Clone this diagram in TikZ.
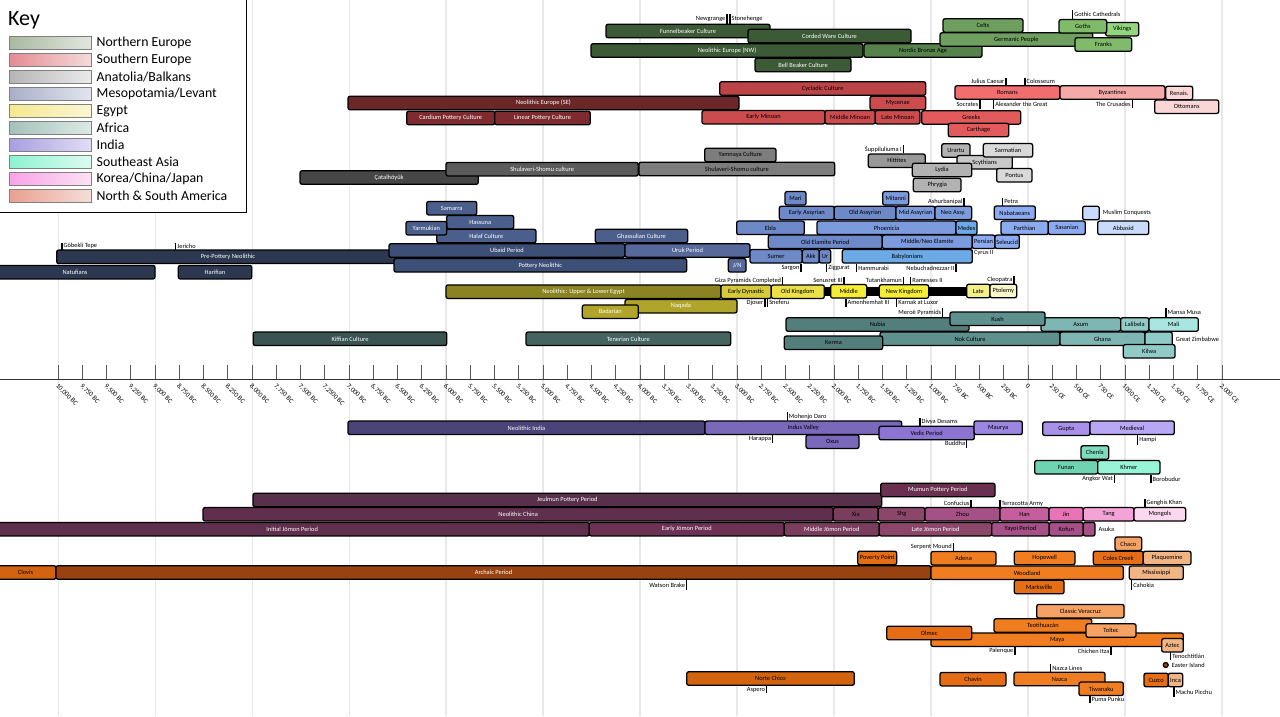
\documentclass[tikz,border=0pt]{standalone}
\usepackage{fontspec}
\setmainfont{Carlito}
\usetikzlibrary{positioning}

% region colours (dark to light)
\definecolor{neA}{HTML}{3B5A35}\definecolor{neB}{HTML}{56834B}\definecolor{neC}{HTML}{6E9F5E}
\definecolor{neD}{HTML}{7FBB6B}\definecolor{neE}{HTML}{93D67E}
\definecolor{seA}{HTML}{6B2728}\definecolor{seB}{HTML}{7D2B2F}\definecolor{seC}{HTML}{BC4447}
\definecolor{seD}{HTML}{CC4C4E}\definecolor{seE}{HTML}{E25A5B}\definecolor{seF}{HTML}{F26D6D}
\definecolor{seG}{HTML}{F5A9A9}\definecolor{seH}{HTML}{FAD6D6}
\definecolor{anA}{HTML}{464646}\definecolor{anB}{HTML}{5B5B5B}\definecolor{anC}{HTML}{7D7D7D}
\definecolor{anD}{HTML}{989898}\definecolor{anE}{HTML}{B2B2B2}\definecolor{anF}{HTML}{C8C8C8}
\definecolor{anG}{HTML}{D9D9D9}
\definecolor{meA}{HTML}{2B3850}\definecolor{meB}{HTML}{3D4F77}\definecolor{meC}{HTML}{4B5F8D}
\definecolor{meD}{HTML}{56699A}\definecolor{meE}{HTML}{6D89C8}\definecolor{meF}{HTML}{7C9BDD}
\definecolor{meG}{HTML}{6BAAE6}\definecolor{meH}{HTML}{8CAAF0}\definecolor{meI}{HTML}{C8DBFC}
\definecolor{egA}{HTML}{8B8321}\definecolor{egB}{HTML}{B1A42A}\definecolor{egC}{HTML}{D6C93C}
\definecolor{egD}{HTML}{EBE04A}\definecolor{egE}{HTML}{F5EC35}\definecolor{egF}{HTML}{F3EF88}
\definecolor{egG}{HTML}{FBF8C8}
\definecolor{afA}{HTML}{3A5551}\definecolor{afB}{HTML}{45635F}\definecolor{afC}{HTML}{527E7B}
\definecolor{afD}{HTML}{5E908D}\definecolor{afE}{HTML}{7DB6B3}\definecolor{afF}{HTML}{91CBC7}
\definecolor{afG}{HTML}{A9E6E2}
\definecolor{inA}{HTML}{4A4478}\definecolor{inB}{HTML}{7A69BA}\definecolor{inC}{HTML}{8C74D2}
\definecolor{inD}{HTML}{9C86E2}\definecolor{inE}{HTML}{A991EA}\definecolor{inF}{HTML}{B9A7F6}
\definecolor{saA}{HTML}{6FD2B1}\definecolor{saB}{HTML}{7DDCBD}\definecolor{saC}{HTML}{97F4D6}
\definecolor{kcA}{HTML}{58304B}\definecolor{kcB}{HTML}{5F2F4D}\definecolor{kcC}{HTML}{6C3153}
\definecolor{kcD}{HTML}{7B3D5E}\definecolor{kcE}{HTML}{8B466A}\definecolor{kcF}{HTML}{6A3050}
\definecolor{kcG}{HTML}{A55086}\definecolor{kcH}{HTML}{C45E9D}\definecolor{kcI}{HTML}{E873B7}
\definecolor{kcJ}{HTML}{F4A3D6}\definecolor{kcK}{HTML}{FCD8F0}
\definecolor{amA}{HTML}{D2640F}\definecolor{amB}{HTML}{974210}\definecolor{amC}{HTML}{E46D16}
\definecolor{amD}{HTML}{F07D20}\definecolor{amE}{HTML}{F5A264}\definecolor{amF}{HTML}{F0B583}
% key swatches
\definecolor{kNEl}{HTML}{A8B9A0}\definecolor{kNEr}{HTML}{E2E6DE}
\definecolor{kSEl}{HTML}{E48C92}\definecolor{kSEr}{HTML}{F5DADA}
\definecolor{kANl}{HTML}{B5B5B5}\definecolor{kANr}{HTML}{EAEAEA}
\definecolor{kMEl}{HTML}{A7AFC8}\definecolor{kMEr}{HTML}{E2E5EE}
\definecolor{kEGl}{HTML}{F5E88E}\definecolor{kEGr}{HTML}{FAF6D4}
\definecolor{kAFl}{HTML}{A3C2BA}\definecolor{kAFr}{HTML}{DDE9E5}
\definecolor{kINl}{HTML}{A79FE0}\definecolor{kINr}{HTML}{E1DDF5}
\definecolor{kSAl}{HTML}{8EF2D0}\definecolor{kSAr}{HTML}{DAFCF0}
\definecolor{kKCl}{HTML}{F9A2E8}\definecolor{kKCr}{HTML}{FCE2F4}
\definecolor{kAMl}{HTML}{E9A08F}\definecolor{kAMr}{HTML}{F5DDD8}

\tikzset{
  era/.style={draw=black, line width=1.3pt, rounded corners=2pt, minimum height=13.5,
    inner sep=0pt, font=\fontsize{6.4}{7}\selectfont},
  evtick/.style={line width=1.2pt},
  evtext/.style={inner sep=0.8pt, font=\fontsize{6.4}{7}\selectfont},
  gridline/.style={line width=1.2pt, black!9},
  axisline/.style={line width=1pt, black!80},
  axistick/.style={line width=0.9pt, black!65},
  ticklab/.style={rotate=-45, anchor=west, inner sep=0pt, font=\fontsize{6.8}{7}\selectfont},
  keybox/.style={draw=black, line width=1.3pt, fill=white},
  swatch/.style={draw=black!50, line width=1pt, minimum width=82, minimum height=12.5, inner sep=0pt},
  keytext/.style={inner sep=0pt, font=\fontsize{13.8}{15}\selectfont}
}

% \era[text colour]{name}{x from}{x to}{y}{fill}{label}
\newcommand{\era}[7][black]{\node[era, fill=#6, text=#1, minimum width={#4-#3}] (#2) at ({(#3+#4)/2},#5) {#7};}
% events: tick from y1 to y2, label to the left / right
\newcommand{\evl}[5]{\draw[evtick] (#2,#3) -- (#2,#4); \node[evtext, anchor=east] (#1) at (#2-0.6,{(#3+#4)/2}) {#5};}
\newcommand{\evr}[5]{\draw[evtick] (#2,#3) -- (#2,#4); \node[evtext, anchor=west] (#1) at (#2+0.6,{(#3+#4)/2}) {#5};}

\begin{document}
\begin{tikzpicture}[x=1pt, y=-1pt]
	\useasboundingbox (0,0) rectangle (1280,716);
	\foreach \yr in {-10000,-9000,...,2000}
		\draw[gridline] ({1028+0.09698*\yr},0) -- ({1028+0.09698*\yr},716);

	% key
	\draw[keybox] (-5,-5) rectangle (246.5,212.3);
	\node[anchor=west, inner sep=0pt, font=\fontsize{22}{24}\selectfont] (keytitle) at (8,20) {Key};
	\foreach \i/\lc/\rc/\lab in {0/kNEl/kNEr/Northern Europe, 1/kSEl/kSEr/Southern Europe,
		2/kANl/kANr/Anatolia\slash Balkans, 3/kMEl/kMEr/Mesopotamia\slash Levant, 4/kEGl/kEGr/Egypt,
		5/kAFl/kAFr/Africa, 6/kINl/kINr/India, 7/kSAl/kSAr/Southeast Asia,
		8/kKCl/kKCr/Korea\slash China\slash Japan, 9/kAMl/kAMr/North \& South America} {
		\node[swatch, left color=\lc, right color=\rc] (key\i) at (50,{42.8+17*\i}) {};
		\node[keytext, right=5pt of key\i] (keylab\i) {\lab};
	}

	% Northern Europe
	\era[white]{funnel}{606}{770}{31}{neA}{Funnelbeaker Culture}
	\era[white]{corded}{748}{911}{36}{neA}{Corded Ware Culture}
	\era[white]{neoNW}{591}{863}{50.5}{neA}{Neolithic Europe (NW)}
	\era{nordic}{864}{982}{50.5}{neB}{Nordic Bronze Age}
	\era[white]{beaker}{755}{851}{65}{neA}{Bell Beaker Culture}
	\era{germanic}{940}{1092.7}{39.5}{neC}{Germanic People}
	\era{celts}{943}{1023}{25.5}{neC}{Celts}
	\era{vikings}{1105.7}{1138.7}{29.2}{neE}{Vikings}
	\era{goths}{1059}{1106.7}{26.3}{neD}{Goths}
	\era{franks}{1075}{1131.7}{44.5}{neD}{Franks}
	\evl{newgrange}{727}{14}{24}{Newgrange}
	\evr{stonehenge}{730}{14}{24}{Stonehenge}
	\evr{gothic}{1072.7}{10}{18.5}{Gothic Cathedrals}

	% Southern Europe
	\era[white]{neoSE}{348}{739}{103}{seA}{Neolithic Europe (SE)}
	\era[white]{cardium}{406.7}{494.7}{118}{seB}{Cardium Pottery Culture}
	\era[white]{linear}{494.7}{590.3}{118}{seB}{Linear Pottery Culture}
	\era{cycladic}{719.7}{925.7}{88.5}{seC}{Cycladic Culture}
	\era{mycenae}{870}{925.7}{103}{seD}{Mycenae}
	\era{eminoan}{702}{825}{117.2}{seD}{Early Minoan}
	\era{mminoan}{825}{875.3}{117.2}{seD}{Middle Minoan}
	\era{lminoan}{875.3}{920}{117.2}{seD}{Late Minoan}
	\era{greeks}{921.7}{1020.7}{117.4}{seE}{Greeks}
	\era{carthage}{948.3}{1008.7}{130}{seE}{Carthage}
	\era{romans}{955}{1060}{92.5}{seF}{Romans}
	\era{byzantines}{1060}{1165}{92.5}{seG}{Byzantines}
	\era{ottomans}{1154.7}{1218.7}{106.7}{seH}{Ottomans}
	\era{renais}{1165.7}{1192.7}{93}{seH}{Renais.}
	\evl{caesar}{1006}{77.5}{85}{Julius Caesar}
	\evr{colosseum}{1025}{77.5}{85}{Colosseum}
	\evl{socrates}{980}{100}{109}{Socrates}
	\evr{alexander}{993.7}{100}{109}{Alexander the Great}
	\evl{crusades}{1132.3}{100}{108}{The Crusades}

	% Anatolia / Balkans
	\era[white]{catal}{300}{478.3}{177.5}{anA}{Çatalhöyük}
	\era[white]{shulaveriA}{446}{638.3}{169.2}{anB}{Shulaveri-Shomu culture}
	\era{shulaveriB}{639}{834.7}{169}{anC}{Shulaveri-Shomu culture}
	\era{yamnaya}{704.7}{776}{155}{anC}{Yamnaya Culture}
	\era{hittites}{868.3}{925.3}{160.8}{anD}{Hittites}
	\era{urartu}{941.7}{970}{150.5}{anE}{Urartu}
	\era{scythians}{957}{1012.3}{162.3}{anF}{Scythians}
	\era{lydia}{912.3}{971.7}{170}{anE}{Lydia}
	\era{phrygia}{913.3}{961}{185}{anE}{Phrygia}
	\era{sarmatian}{983.3}{1032.7}{150.3}{anG}{Sarmatian}
	\era{pontus}{996.7}{1032}{175.3}{anG}{Pontus}
	\evl{suppiluliuma}{903.3}{145}{153}{Šuppiluliuma I}

	% Mesopotamia / Levant
	\era[white]{natufians}{-5}{155}{272.2}{meA}{Natufians}
	\era[white]{ppn}{56.7}{399.3}{256.8}{meA}{Pre-Pottery Neolithic}
	\era[white]{harifian}{178.3}{251.7}{272.2}{meA}{Harifian}
	\era[white]{samarra}{426.7}{476.7}{208.2}{meC}{Samarra}
	\era[white]{hassuna}{446.7}{513.7}{222.2}{meC}{Hassuna}
	\era[white]{halaf}{436.7}{536}{236}{meC}{Halaf Culture}
	\era[white]{yarmukian}{406}{446.7}{228.2}{meC}{Yarmukian}
	\era[white]{ghassulian}{595.3}{687.7}{236}{meC}{Ghassulian Culture}
	\era[white]{ubaid}{389}{625}{250.5}{meB}{Ubaid Period}
	\era[white]{uruk}{625}{750}{250.5}{meD}{Uruk Period}
	\era[white]{potneo}{394}{686.7}{265.3}{meB}{Pottery Neolithic}
	\era[white]{jn}{728.3}{746}{265.3}{meD}{J/N}
	\era{mari}{785}{806}{198.3}{meE}{Mari}
	\era{mitanni}{882.7}{908.7}{198.3}{meF}{Mitanni}
	\era{eassyrian}{779.3}{834.3}{213}{meE}{Early Assyrian}
	\era{oassyrian}{834.3}{896}{213}{meE}{Old Assyrian}
	\era{massyrian}{896}{935}{213}{meF}{Mid Assyrian}
	\era{nassyrian}{935}{971.7}{213}{meF}{Neo Assy.}
	\era{ebla}{736.7}{804.3}{227.8}{meE}{Ebla}
	\era{phoenicia}{817}{956}{227.8}{meF}{Phoenicia}
	\era{medes}{956}{977}{227.8}{meG}{Medes}
	\era{oelamite}{768.3}{882.3}{241.8}{meE}{Old Elamite Period}
	\era{nelamite}{882.3}{972.3}{241.8}{meF}{Middle/Neo Elamite}
	\era{persian}{972.3}{995}{241.8}{meH}{Persian}
	\era{seleucid}{995}{1019.3}{241.8}{meH}{Seleucid}
	\era{sumer}{750}{802.3}{256.3}{meE}{Sumer}
	\era{akk}{802.3}{819.3}{256.3}{meE}{Akk}
	\era{ur}{819.3}{830.7}{256.3}{meE}{Ur}
	\era{babylonians}{842.3}{972.3}{256.3}{meG}{Babylonians}
	\era{nabataeans}{994.3}{1035.3}{212.8}{meH}{Nabataeans}
	\era{parthian}{1001}{1048.3}{227.8}{meH}{Parthian}
	\era{sasanian}{1048.3}{1085.3}{227.8}{meH}{Sasanian}
	\era{muslim}{1082.7}{1099.3}{213}{meI}{}
	\era{abbasid}{1097.7}{1148.7}{227.8}{meI}{Abbasid}
	\node[evtext, right=2pt of muslim] (conquests) {Muslim Conquests};
	\evr{gobekli}{62}{242.5}{249.5}{Göbekli Tepe}
	\evr{jericho}{175.7}{242.5}{249.5}{Jericho}
	\evl{ashurbanipal}{964}{197.5}{205.7}{Ashurbanipal}
	\evr{petra}{1002.7}{197.5}{205.7}{Petra}
	\evl{sargon}{801}{264}{272}{Sargon}
	\evr{ziggurat}{826.7}{264}{272}{Ziggurat}
	\evr{hammurabi}{856.7}{264}{272}{Hammurabi}
	\evl{nebuchadnezzar}{956}{264}{272}{Nebuchadnezzar II}
	\evr{cyrus}{972.5}{249.5}{257}{Cyrus II}

	% Egypt
	\era[white]{neoegypt}{446}{721}{291.7}{egA}{Neolithic: Upper \& Lower Egypt}
	\era[white]{naqada}{625}{737}{306.2}{egB}{Naqada}
	\era[white]{badarian}{582.3}{638.3}{311.7}{egB}{Badarian}
	\fill[black] (824,286.5) rectangle (968,295.5);
	\era{edynastic}{721}{771.3}{291.7}{egC}{Early Dynastic}
	\era{okingdom}{771.3}{824.3}{291.7}{egD}{Old Kingdom}
	\era{mkingdom}{830.7}{866.7}{291.3}{egE}{Middle}
	\era{nkingdom}{879.3}{928.7}{291.5}{egE}{New Kingdom}
	\era{late}{966.7}{990}{291}{egF}{Late}
	\era{ptolemy}{990}{1016.7}{291}{egG}{Ptolemy}
	\evl{giza}{782.7}{277}{284.5}{Giza Pyramids Completed}
	\evl{senusret}{844}{277}{284.5}{Senusret III}
	\evl{tutankhamun}{903.3}{277}{284.5}{Tutankhamun}
	\evr{ramesses}{910.7}{277}{284.5}{Ramesses II}
	\evl{cleopatra}{1014}{276}{284}{Cleopatra}
	\evl{djoser}{765}{299}{306.5}{Djoser}
	\evr{sneferu}{767.7}{299}{306.5}{Sneferu}
	\evr{amenhemhat}{846}{299}{306.5}{Amenhemhat III}
	\evr{karnak}{896.7}{299}{306.5}{Karnak at Luxor}
	\evl{meroe}{942.7}{308}{317}{Meroë Pyramids}

	% Africa
	\era[white]{kiffian}{253.3}{446.7}{338.8}{afA}{Kiffian Culture}
	\era[white]{tenerian}{526}{730.7}{338.8}{afB}{Tenerian Culture}
	\era{nubia}{786}{969}{324.5}{afC}{Nubia}
	\era{axum}{1041}{1120.7}{324.5}{afE}{Axum}
	\era{kush}{950}{1045}{318.8}{afD}{Kush}
	\era{lalibela}{1120.7}{1149}{324.5}{afF}{Lalibela}
	\era{mali}{1149}{1198.3}{324.5}{afG}{Mali}
	\era{nok}{880}{1060}{338.8}{afD}{Nok Culture}
	\era{kerma}{784.3}{882.7}{342.8}{afC}{Kerma}
	\era{ghana}{1060}{1145}{338.8}{afE}{Ghana}
	\era{zimbabwe}{1145}{1172.3}{338.8}{afF}{}
	\era{kilwa}{1123.3}{1175}{351.3}{afF}{Kilwa}
	\node[evtext, right=2pt of zimbabwe] (zimlabel) {Great Zimbabwe};
	\evr{mansamusa}{1166}{308}{317}{Mansa Musa}

	% time axis
	\draw[axisline] (0,379) -- (1280,379);
	\foreach \yr/\lab in {-10000/10{,}000 BC, -9750/9{,}750 BC, -9500/9{,}500 BC, -9250/9{,}250 BC,
		-9000/9{,}000 BC, -8750/8{,}750 BC, -8500/8{,}500 BC, -8250/8{,}250 BC, -8000/8{,}000 BC,
		-7750/7{,}750 BC, -7500/7{,}500 BC, -7250/7{,}2500 BC, -7000/7{,}000 BC, -6750/6{,}750 BC,
		-6500/6{,}500 BC, -6250/6{,}250 BC, -6000/6{,}000 BC, -5750/5{,}750 BC, -5500/5{,}500 BC,
		-5250/5{,}250 BC, -5000/5{,}000 BC, -4750/4{,}750 BC, -4500/4{,}500 BC, -4250/4{,}250 BC,
		-4000/4{,}000 BC, -3750/3{,}750 BC, -3500/3{,}500 BC, -3250/3{,}250 BC, -3000/3{,}000 BC,
		-2750/2{,}750 BC, -2500/2{,}500 BC, -2250/2{,}250 BC, -2000/2{,}000 BC, -1750/1{,}750 BC,
		-1500/1{,}500 BC, -1250/1{,}250 BC, -1000/1{,}000 BC, -750/750 BC, -500/500 BC, -250/250 BC,
		0/0, 250/250 CE, 500/500 CE, 750/750 CE, 1000/1000 CE, 1250/1{,}250 CE, 1500/1{,}500 CE,
		1750/1{,}750 CE, 2000/2{,}000 CE} {
		\pgfmathsetmacro{\tx}{1028+0.09698*\yr}
		\draw[axistick] (\tx,365) -- (\tx,379);
		\node[ticklab] (tick\yr) at (\tx-1.5,385) {\lab};
	}

	% India
	\era[white]{neoindia}{348}{705}{427.8}{inA}{Neolithic India}
	\era{indus}{705}{901.7}{427.8}{inB}{Indus Valley}
	\era{oxus}{806}{859}{441.7}{inB}{Oxus}
	\era{vedic}{879}{974.3}{433}{inC}{Vedic Period}
	\era{maurya}{974}{1022.3}{427.8}{inD}{Maurya}
	\era{gupta}{1042.7}{1090}{428.7}{inE}{Gupta}
	\era{medieval}{1090}{1174.3}{427.8}{inF}{Medieval}
	\evr{mohenjo}{787.3}{412}{420.7}{Mohenjo Daro}
	\evl{harappa}{772.7}{435}{443}{Harappa}
	\evr{divya}{920}{418}{426}{Divya Desams}
	\evl{buddha}{966.7}{440}{447.5}{Buddha}
	\evr{hampi}{1137.7}{435}{445}{Hampi}

	% Southeast Asia
	\era{chenla}{1081}{1108.7}{452.5}{saB}{Chenla}
	\era{funan}{1034.7}{1097.7}{467.3}{saA}{Funan}
	\era{khmer}{1097.7}{1160}{467.3}{saC}{Khmer}
	\evl{angkor}{1114.3}{475}{483}{Angkor Wat}
	\evr{borobudur}{1151}{475}{483}{Borobudur}

	% Korea / China / Japan
	\era[white]{jeulmun}{253}{881.7}{500}{kcA}{Jeulmun Pottery Period}
	\era[white]{mumun}{880.7}{995}{490}{kcF}{Mumun Pottery Period}
	\era[white]{neochina}{203}{833.3}{514.3}{kcB}{Neolithic China}
	\era{xia}{833.3}{878.3}{514.3}{kcD}{Xia}
	\era{shang}{878.3}{925}{514.3}{kcE}{Shg}
	\era{zhou}{925}{1000}{514.3}{kcG}{Zhou}
	\era{han}{1000}{1049}{514.3}{kcH}{Han}
	\era{jin}{1049}{1083.3}{514.3}{kcI}{Jin}
	\era{tang}{1083.3}{1134}{514.3}{kcJ}{Tang}
	\era{mongols}{1134}{1185.7}{514.3}{kcK}{Mongols}
	\era[white]{ijomon}{-5}{589.3}{529.2}{kcB}{Initial Jōmon Period}
	\era[white]{ejomon}{589.3}{784.3}{529.2}{kcC}{Early Jōmon Period}
	\era[white]{mjomon}{784.3}{879.3}{529.2}{kcD}{Middle Jōmon Period}
	\era[white]{ljomon}{879.3}{991.7}{529.2}{kcE}{Late Jōmon Period}
	\era{yayoi}{991.7}{1049.3}{529.2}{kcG}{Yayoi Period}
	\era{kofun}{1049.3}{1083.3}{529.2}{kcG}{Kofun}
	\era{asuka}{1083.3}{1095}{529.2}{kcG}{}
	\node[evtext, right=2pt of asuka] (asukalabel) {Asuka};
	\evl{confucius}{971}{500}{507.5}{Confucius}
	\evr{terracotta}{1000}{500}{507.5}{Terracotta Army}
	\evr{genghis}{1145}{499}{507.5}{Genghis Khan}

	% North & South America
	\era{clovis}{-5}{56}{572.5}{amA}{Clovis}
	\era[white]{archaic}{56}{931}{572.5}{amB}{Archaic Period}
	\era{poverty}{857.7}{896.7}{558}{amC}{Poverty Point}
	\era{woodland}{931}{1123.3}{572.8}{amD}{Woodland}
	\era{adena}{931}{996}{558.3}{amD}{Adena}
	\era{hopewell}{1014.3}{1075}{558}{amD}{Hopewell}
	\era{marksville}{1014.3}{1064}{587}{amC}{Marksville}
	\era{chaco}{1115}{1141.7}{543.8}{amE}{Chaco}
	\era{coles}{1093.3}{1143.3}{558}{amC}{Coles Creek}
	\era{plaquemine}{1143.3}{1191}{558}{amF}{Plaquemine}
	\era{mississippi}{1129.3}{1183.3}{572.8}{amF}{Mississippi}
	\era{veracruz}{1036.7}{1124}{611.2}{amE}{Classic Veracruz}
	\era{teotihuacan}{994}{1091.7}{625.5}{amD}{Teotihuacán}
	\era{maya}{931}{1183.3}{639.7}{amD}{Maya}
	\era{olmec}{886.7}{971.7}{633}{amC}{Olmec}
	\era{toltec}{1086}{1136}{630.5}{amE}{Toltec}
	\era{aztec}{1161.7}{1183.3}{645.3}{amF}{Aztec}
	\era{nortechico}{686.7}{854.3}{678.5}{amA}{Norte Chico}
	\era{chavin}{940}{1006}{679.2}{amC}{Chavín}
	\era{nazca}{1014}{1105}{679}{amD}{Nazca}
	\era{tiwanaku}{1079}{1123.3}{688.8}{amD}{Tiwanaku}
	\era{cuzco}{1144}{1168.3}{680}{amC}{Cuzco}
	\era{inca}{1168.3}{1182.7}{680}{amF}{Inca}
	\node[circle, draw=black, line width=1.2pt, fill=amB, minimum size=5, inner sep=0pt] (easter) at (1165.7,665) {};
	\node[evtext, right=2pt of easter] (easterlabel) {Easter Island};
	\evl{serpent}{953.3}{543}{551}{Serpent Mound}
	\evl{watson}{686.7}{580}{590}{Watson Brake}
	\evr{cahokia}{1131.7}{580}{590}{Cahokia}
	\evl{palenque}{1015}{647}{655}{Palenque}
	\evl{chichen}{1111}{647}{655}{Chichen Itza}
	\evr{tenochtitlan}{1170.7}{652}{660}{Tenochtitlán}
	\evr{nazcalines}{1050.7}{664}{672}{Nazca Lines}
	\evl{aspero}{766.7}{686}{693}{Aspero}
	\evr{pumapunku}{1090}{696}{703}{Puma Punku}
	\evr{machu}{1174}{687}{697}{Machu Picchu}
\end{tikzpicture}
\end{document}
